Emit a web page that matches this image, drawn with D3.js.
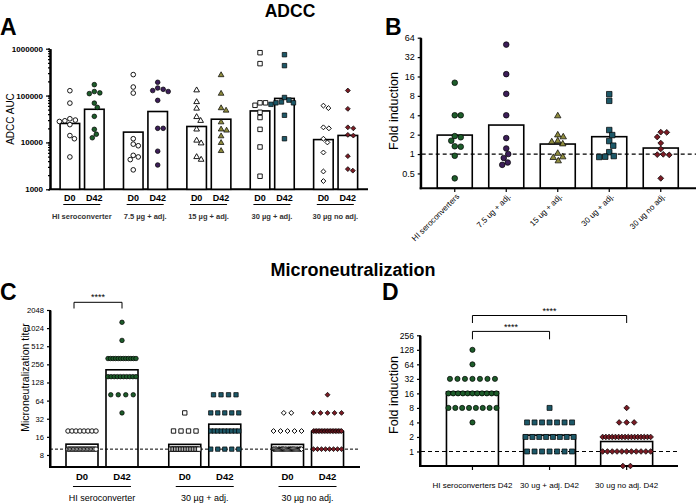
<!DOCTYPE html>
<html>
<head>
<meta charset="utf-8">
<script src="https://cdn.jsdelivr.net/npm/d3@7"></script>
<style>
  body { margin: 0; background: #fff; }
  svg { font-family: "Liberation Sans", Arial, sans-serif; }
</style>
</head>
<body>
<div id="chart"></div>
<script>
// ---------- data ----------
const days = ["D0", "D42"];

// A: ADCC AUC (bars = geometric means)
const groupsA = ["HI seroconverter", "7.5 µg + adj.", "15 µg + adj.", "30 µg + adj.", "30 µg no adj."];
const barsA_D0 = [25400, 16600, 21900, 47000, 11500];
const barsA_D42 = [51000, 45700, 31300, 87000, 14100];
const adccD0 = [
  [127000, 69000, 32000, 30000, 29000, 28000, 24000, 14000, 12000, 4900],
  [280000, 152000, 113000, 12000, 9200, 8500, 5300, 4900, 4300, 2600],
  [130000, 73000, 53000, 35000, 29000, 19000, 11000, 9600, 4900, 4300],
  [822000, 480000, 70000, 70000, 62000, 44000, 34000, 19000, 8000, 1900],
  [61000, 54000, 21000, 20000, 12000, 10000, 6100, 2400, 1500]
];
const adccD42 = [
  [171000, 122000, 114000, 110000, 69000, 56000, 36000, 19000, 15000, 12600],
  [192000, 145000, 136000, 128000, 122000, 79000, 20000, 20000, 6500, 3300],
  [274000, 110000, 54000, 48000, 27000, 19000, 18000, 13600, 9800, 6600],
  [745000, 435000, 91000, 80000, 73000, 70000, 70000, 65000, 38000, 12000],
  [128000, 52000, 21000, 20000, 14500, 14000, 5100, 2700, 2500]
];

// B: ADCC fold induction
const labelsB = ["HI seroconverters", "7.5 ug + adj.", "15 ug + adj.", "30 ug + adj.", "30 ug no adj."];
const barsB = [1.97, 2.82, 1.43, 1.86, 1.24];
const foldB = [
  [12.8, 4, 4, 1.9, 1.82, 1.61, 1.3, 1.32, 0.94, 0.42],
  [50, 17.4, 8.6, 4, 1.77, 1.22, 0.87, 1.0, 0.68, 0.74],
  [3.9, 1.84, 1.97, 1.54, 1.59, 1.43, 0.9, 0.88, 1.02, 0.78],
  [8.5, 6.7, 2.36, 1.97, 1.59, 1.35, 1.07, 0.93, 0.9, 0.91],
  [2.17, 2.19, 1.84, 1.48, 1.2, 0.98, 0.97, 0.99, 0.42]
];

// C: microneutralization titers
const groupsC = ["HI seroconverter", "30 µg + adj.", "30 µg no adj."];
const barsC_D0 = [12.1, 12, 12];
const barsC_D42 = [208, 26, 19.6];
const mnD0 = [
  [20, 20, 20, 20, 20, 20, 20, 20, 10, 10, 10, 10, 10, 10, 10, 10, 10, 10, 10, 10, 10, 10, 10, 10, 10, 10, 10, 10, 10],
  [40, 20, 20, 20, 20, 10, 10, 10, 10, 10, 10, 10, 10, 10, 10, 10, 10, 10, 10, 10, 10, 10, 10],
  [40, 40, 20, 20, 20, 20, 20, 10, 10, 10, 10, 10, 10, 10, 10, 10, 10, 10, 10, 10, 10, 10, 10, 10, 10, 10, 10, 10, 10, 10, 10, 10, 10]
];
const mnD42 = [
  [1280, 640, 320, 320, 320, 320, 320, 320, 320, 320, 320, 320, 320, 320, 160, 160, 160, 160, 160, 160, 160, 160, 160, 160, 80, 80, 80, 80, 40],
  [80, 80, 80, 80, 40, 40, 40, 40, 40, 20, 20, 20, 20, 20, 20, 20, 20, 20, 10, 10, 10, 10, 10],
  [80, 40, 40, 40, 40, 40, 20, 20, 20, 20, 20, 20, 20, 20, 20, 20, 20, 20, 20, 20, 20, 20, 20, 20, 20, 10, 10, 10, 10, 10, 10, 10, 10]
];

// D: microneutralization fold induction
const groupsD = ["HI seroconverters D42", "30 ug + adj. D42", "30 ug no adj. D42"];
const barsD = [17.2, 2.18, 1.61];
const foldD = [
  [128, 64, 32, 32, 32, 32, 32, 32, 32, 16, 16, 16, 16, 16, 16, 16, 16, 16, 16, 16, 8, 8, 8, 8, 8, 8, 8, 8, 4],
  [8, 4, 4, 4, 4, 4, 4, 4, 2, 2, 2, 2, 2, 2, 2, 2, 1, 1, 1, 1, 1, 1, 1],
  [8, 4, 4, 4, 2, 2, 2, 2, 2, 2, 2, 2, 2, 2, 2, 2, 2, 2, 2, 2, 1, 1, 1, 1, 1, 1, 1, 1, 1, 1, 1, 0.5, 0.5]
];

const colors = ["#1d5c2a", "#3c1e58", "#8e8b3e", "#1d5868", "#7a1b24"];
const shapes = ["circle", "circle", "triangle", "square", "diamond"];

// ---------- helpers ----------
const svg = d3.select("#chart").append("svg").attr("width", 696).attr("height", 503);

function markerPath(shape, size) {
  if (shape === "circle") return d3.symbol(d3.symbolCircle, size)();
  if (shape === "triangle") return d3.symbol(d3.symbolTriangle, size)();
  return d3.symbol(d3.symbolSquare, size)(); // diamond = rotated square
}

function drawMarkers(g, pts, shape, size, fill) {
  g.selectAll(null).data(pts).enter().append("path")
    .attr("d", markerPath(shape, size))
    .attr("transform", d => `translate(${d.x},${d.y})` + (shape === "diamond" ? " rotate(45)" : ""))
    .attr("fill", fill || "#fff")
    .attr("stroke", "#000")
    .attr("stroke-width", fill ? 0.7 : 0.9);
}

// simple beeswarm: place from top, nearest free horizontal offset
function swarm(vals, cx, y, r) {
  const pts = vals.map(v => ({ v, y: y(v) })).sort((a, b) => a.y - b.y);
  const placed = [];
  pts.forEach(p => {
    for (let k = 0; k < 200; k++) {
      const off = (k % 2 ? 1 : -1) * Math.ceil(k / 2) * 0.5;
      const x = cx + off;
      if (placed.every(q => Math.hypot(q.x - x, q.y - p.y) >= 2 * r)) {
        p.x = x;
        break;
      }
    }
    placed.push(p);
  });
  return placed;
}

// equal values in a row, compressed to fit width
function rows(vals, cx, y, s0, maxW) {
  const out = [];
  for (const [v, arr] of d3.group(vals, v => v)) {
    const n = arr.length;
    const s = n > 1 ? Math.min(s0, maxW / (n - 1)) : 0;
    arr.forEach((_, i) => out.push({ v, x: cx + (i - (n - 1) / 2) * s, y: y(v) }));
  }
  return out;
}

function styleAxis(g, fs, bold) {
  g.select(".domain").attr("stroke-width", 2);
  g.selectAll(".tick line").attr("stroke-width", 1.2);
  g.selectAll(".tick text").attr("font-size", fs).attr("font-weight", bold ? "bold" : "normal")
    .attr("font-family", "Liberation Sans, Arial, sans-serif").attr("fill", "#000");
}

function hline(g, x1, x2, y, w, dash) {
  g.append("line").attr("x1", x1).attr("x2", x2).attr("y1", y).attr("y2", y)
    .attr("stroke", "#000").attr("stroke-width", w).attr("stroke-dasharray", dash || null);
}

function text(g, x, y, s, fs, weight, anchor, fill) {
  return g.append("text").attr("x", x).attr("y", y).text(s)
    .attr("font-size", fs).attr("font-weight", weight || "normal")
    .attr("text-anchor", anchor || "middle").attr("fill", fill || "#000");
}

// ---------- titles ----------
text(svg, 290, 16.5, "ADCC", 17.5, "bold");
text(svg, 353, 275.5, "Microneutralization", 18, "bold");
text(svg, 0, 35, "A", 23, "bold", "start");
text(svg, 385, 35, "B", 23, "bold", "start");
text(svg, 0, 300, "C", 23, "bold", "start");
text(svg, 382, 300, "D", 23, "bold", "start");

// ---------- panel A ----------
const gA = svg.append("g");
const yA = d3.scaleLog().domain([1000, 1e6]).range([189.3, 48.7]);
const xA = d3.scaleBand().domain(groupsA).range([50.1, 367]);
const dA = d3.scaleBand().domain(days).range([10, 54]).paddingInner(0.2);

gA.append("g").attr("transform", "translate(50,0)")
  .call(d3.axisLeft(yA).tickValues(yA.ticks()).tickSize(2).tickFormat("").tickSizeOuter(0))
  .call(g => styleAxis(g, 8, true));
gA.append("g").attr("transform", "translate(50,0)")
  .call(d3.axisLeft(yA).tickValues([1e3, 1e4, 1e5, 1e6]).tickSize(4).tickFormat(d3.format("d")).tickSizeOuter(0))
  .call(g => styleAxis(g, 8, true));
hline(gA, 49, 368, 189.3, 2);
gA.append("text").attr("transform", "translate(13.5,119) rotate(-90)").text("ADCC AUC")
  .attr("font-size", 10).attr("text-anchor", "middle");

groupsA.forEach((grp, i) => {
  const gx = xA(grp);
  const vals = [barsA_D0[i], barsA_D42[i]];
  days.forEach((d, j) => {
    gA.append("rect").attr("x", gx + dA(d)).attr("width", dA.bandwidth())
      .attr("y", yA(vals[j])).attr("height", yA(1000) - yA(vals[j]))
      .attr("fill", "#fff").attr("stroke", "#000").attr("stroke-width", 1.6);
    text(gA, gx + dA(d) + dA.bandwidth() / 2, 201, d, 9, "bold");
  });
  const cx0 = gx + dA("D0") + dA.bandwidth() / 2;
  const cx1 = gx + dA("D42") + dA.bandwidth() / 2;
  const sz = { circle: 17, triangle: 14, square: 20, diamond: 12 }[shapes[i]];
  drawMarkers(gA, swarm(adccD0[i], cx0, yA, 2.6), shapes[i], sz, null);
  drawMarkers(gA, swarm(adccD42[i], cx1, yA, 2.6), shapes[i], sz, colors[i]);
  const gc = gx + xA.bandwidth() / 2;
  hline(gA, gc - 18.5, gc + 18.5, 204.5, 1);
  text(gA, gc, 218.5, grp, 7.5, "bold", "middle", "#333");
});

// ---------- panel B ----------
const gB = svg.append("g");
const yB = d3.scaleLog().base(2).domain([0.294, 64]).range([188.3, 37.7]);
const xB = d3.scaleBand().domain(labelsB).range([429, 686.5]).paddingInner(0.32).paddingOuter(0.16);

gB.append("g").attr("transform", "translate(420.7,0)")
  .call(d3.axisLeft(yB).tickValues([0.5, 1, 2, 4, 8, 16, 32, 64]).tickSize(3).tickFormat(d => d).tickSizeOuter(0))
  .call(g => styleAxis(g, 9, false));
gB.append("line").attr("x1", 420.7).attr("x2", 420.7).attr("y1", 37.7).attr("y2", 189.3)
  .attr("stroke", "#000").attr("stroke-width", 2);
gB.append("text").attr("transform", "translate(398,111) rotate(-90)").text("Fold induction")
  .attr("font-size", 12.5).attr("text-anchor", "middle");

labelsB.forEach((lab, i) => {
  gB.append("rect").attr("x", xB(lab)).attr("width", xB.bandwidth())
    .attr("y", yB(barsB[i])).attr("height", yB.range()[0] - yB(barsB[i]))
    .attr("fill", "#fff").attr("stroke", "#000").attr("stroke-width", 1.6);
});
hline(gB, 421.7, 696, yB(1), 1.2, "4,3");
hline(gB, 419.7, 696, 188.3, 2);
labelsB.forEach((lab, i) => {
  const cx = xB(lab) + xB.bandwidth() / 2;
  const sz = { circle: 25, triangle: 18, square: 30, diamond: 17 }[shapes[i]];
  drawMarkers(gB, swarm(foldB[i], cx, yB, 2.9), shapes[i], sz, colors[i]);
  gB.append("line").attr("x1", cx).attr("x2", cx).attr("y1", 189).attr("y2", 192)
    .attr("stroke", "#000").attr("stroke-width", 1.2);
  gB.append("text").attr("transform", `translate(${cx + 5},197) rotate(-45)`).text(lab)
    .attr("font-size", 8).attr("text-anchor", "end");
});

// ---------- panel C ----------
const gC = svg.append("g");
const yC = d3.scaleLog().base(2).domain([5.05, 2048]).range([467, 310]);
const xC = d3.scaleBand().domain(groupsC).range([50.6, 358.9]);
const dC = d3.scaleBand().domain(days).range([15.4, 87.4]).paddingInner(0.2);
const shapesC = ["circle", "square", "diamond"];
const colorsC = [colors[0], colors[3], colors[4]];

gC.append("g").attr("transform", "translate(50,0)")
  .call(d3.axisLeft(yC).tickValues([8, 16, 32, 64, 128, 256, 512, 1024, 2048]).tickSize(3).tickFormat(d => d).tickSizeOuter(0))
  .call(g => styleAxis(g, 7.6, false));
gC.append("line").attr("x1", 50).attr("x2", 50).attr("y1", 310).attr("y2", 468)
  .attr("stroke", "#000").attr("stroke-width", 2);
gC.append("text").attr("transform", "translate(29,377.5) rotate(-90)").text("Microneutralization titer")
  .attr("font-size", 10.5).attr("text-anchor", "middle");

groupsC.forEach((grp, i) => {
  const gx = xC(grp);
  const vals = [barsC_D0[i], barsC_D42[i]];
  days.forEach((d, j) => {
    gC.append("rect").attr("x", gx + dC(d)).attr("width", dC.bandwidth())
      .attr("y", yC(vals[j])).attr("height", yC.range()[0] - yC(vals[j]))
      .attr("fill", "#fff").attr("stroke", "#000").attr("stroke-width", 1.6);
    text(gC, gx + dC(d) + dC.bandwidth() / 2, 480, d, 9.5, "bold");
  });
  const gc = gx + xC.bandwidth() / 2;
  hline(gC, gc - 29, gc + 29, 486.5, 1);
  text(gC, gc, 501, grp, 9);
});
hline(gC, 50, 359, yC(10), 1, "3,2");
hline(gC, 49, 360, 467, 2);
groupsC.forEach((grp, i) => {
  const gx = xC(grp);
  const cx0 = gx + dC("D0") + dC.bandwidth() / 2;
  const cx1 = gx + dC("D42") + dC.bandwidth() / 2;
  const sz = { circle: 16, square: 19, diamond: 12 }[shapesC[i]];
  drawMarkers(gC, rows(mnD0[i], cx0, yC, 7.5, 28), shapesC[i], sz, null);
  drawMarkers(gC, rows(mnD42[i], cx1, yC, 7.5, 28), shapesC[i], sz, colorsC[i]);
});
// significance bracket
{
  const xl = xC(groupsC[0]) + dC("D0") + dC.bandwidth() / 2 - 8;
  const xr = xC(groupsC[0]) + dC("D42") + dC.bandwidth() / 2;
  gC.append("path").attr("d", `M${xl},308.5V302.3H${xr}V308.5`)
    .attr("fill", "none").attr("stroke", "#000").attr("stroke-width", 1);
  text(gC, (xl + xr) / 2, 300, "****", 9);
}

// ---------- panel D ----------
const gD = svg.append("g");
const yD = d3.scaleLog().base(2).domain([0.5, 256]).range([466, 335.3]);
const xD = d3.scaleBand().domain(groupsD).range([433.9, 665.2]).paddingInner(0.326).paddingOuter(0.163);
const shapesD = ["circle", "square", "diamond"];
const colorsD = [colors[0], colors[3], colors[4]];

gD.append("g").attr("transform", "translate(420,0)")
  .call(d3.axisLeft(yD).tickValues([1, 2, 4, 8, 16, 32, 64, 128, 256]).tickSize(3).tickFormat(d => d).tickSizeOuter(0))
  .call(g => styleAxis(g, 8.5, false));
gD.append("line").attr("x1", 420).attr("x2", 420).attr("y1", 335.3).attr("y2", 467)
  .attr("stroke", "#000").attr("stroke-width", 2);
gD.append("text").attr("transform", "translate(398,395) rotate(-90)").text("Fold induction")
  .attr("font-size", 12.5).attr("text-anchor", "middle");

groupsD.forEach((grp, i) => {
  gD.append("rect").attr("x", xD(grp)).attr("width", xD.bandwidth())
    .attr("y", yD(barsD[i])).attr("height", yD.range()[0] - yD(barsD[i]))
    .attr("fill", "#fff").attr("stroke", "#000").attr("stroke-width", 1.6);
});
hline(gD, 421, 677, yD(1), 1.2, "4,3");
hline(gD, 419, 678, 466, 2);
groupsD.forEach((grp, i) => {
  const cx = xD(grp) + xD.bandwidth() / 2;
  const sz = { circle: 21, square: 25, diamond: 16 }[shapesD[i]];
  drawMarkers(gD, rows(foldD[i], cx, yD, 7.5, 48), shapesD[i], sz, colorsD[i]);
  gD.append("line").attr("x1", cx).attr("x2", cx).attr("y1", 467).attr("y2", 470)
    .attr("stroke", "#000").attr("stroke-width", 1.2);
  text(gD, cx, 488, grp, 8);
});
{
  const c = groupsD.map(g => xD(g) + xD.bandwidth() / 2);
  gD.append("path").attr("d", `M${c[0]},339.3V331.4H${c[1]}V339.3`)
    .attr("fill", "none").attr("stroke", "#000").attr("stroke-width", 1);
  gD.append("path").attr("d", `M${c[0]},323V315.5H${c[2]}V323`)
    .attr("fill", "none").attr("stroke", "#000").attr("stroke-width", 1);
  text(gD, (c[0] + c[1]) / 2, 330, "****", 9);
  text(gD, (c[0] + c[2]) / 2, 313.5, "****", 9);
}
</script>
</body>
</html>
